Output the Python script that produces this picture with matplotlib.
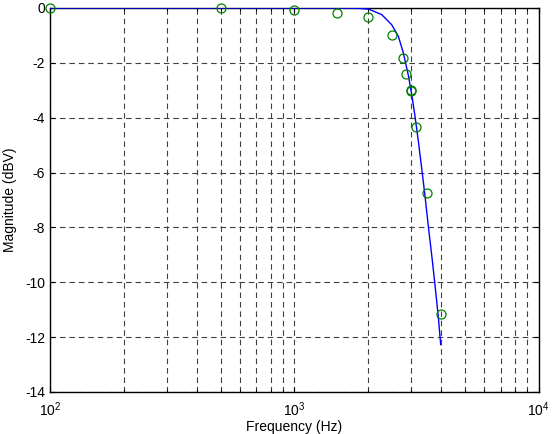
import matplotlib
matplotlib.use('Agg')
import matplotlib.pyplot as plt
import numpy as np

plt.rcParams['font.family'] = ['Liberation Sans', 'DejaVu Sans']
plt.rcParams['mathtext.default'] = 'regular'
plt.rcParams['axes.unicode_minus'] = False
plt.rcParams['font.size'] = 10

# simulated response (blue line)
sim_freq = [100, 1000, 1500, 1800, 2013, 2279, 2504, 2666, 2795, 2929, 3024,
            3120, 3219, 3323, 3428, 3536, 3672, 3766, 3885, 3974]
sim_db = [0.0, 0.0, 0.0, -0.01, -0.04, -0.24, -0.61, -1.03, -1.64, -2.45, -3.15,
          -3.95, -4.85, -5.85, -6.85, -7.95, -9.2, -10.1, -11.25, -12.27]

# measured points (green circles)
meas_freq = [100, 500, 1000, 1500, 2000, 2500, 2780, 2866, 2990, 3000, 3155, 3500, 3971]
meas_db = [0.0, 0.0, -0.09, -0.17, -0.31, -1.0, -1.82, -2.39, -2.98, -3.02, -4.35, -6.74, -11.15]

fig = plt.figure(figsize=(5.52, 4.34), dpi=100)
ax = fig.add_axes([50 / 552, 1 - 392 / 434, 488.6 / 552, 384 / 434])

ax.semilogx(sim_freq, sim_db, color='#0000ff', linewidth=1.0, zorder=3)
ax.semilogx(meas_freq, meas_db, 'o', markerfacecolor='none', markeredgecolor='#008000',
            markersize=6.5, markeredgewidth=0.9, zorder=4, clip_on=False)

ax.set_xlim(100, 10000)
ax.set_ylim(-14, 0)
ax.set_yticks(np.arange(-14, 1, 2))

ax.grid(True, which='major', axis='both', color='0.25', linestyle=(0, (5, 3.5)), linewidth=0.8)
ax.grid(True, which='minor', axis='x', color='0.25', linestyle=(0, (5, 3.5)), linewidth=0.8)
ax.tick_params(which='both', direction='in', top=True, right=True, labelsize=10)
ax.tick_params(axis='x', pad=6)
for s in ax.spines.values():
    s.set_linewidth(1.0)

ax.set_xlabel('Frequency (Hz)', labelpad=1)
ax.yaxis.set_label_coords(-0.068, 0.5)
ax.set_ylabel('Magnitude (dBV)')

fig.savefig('out.png', dpi=100)
